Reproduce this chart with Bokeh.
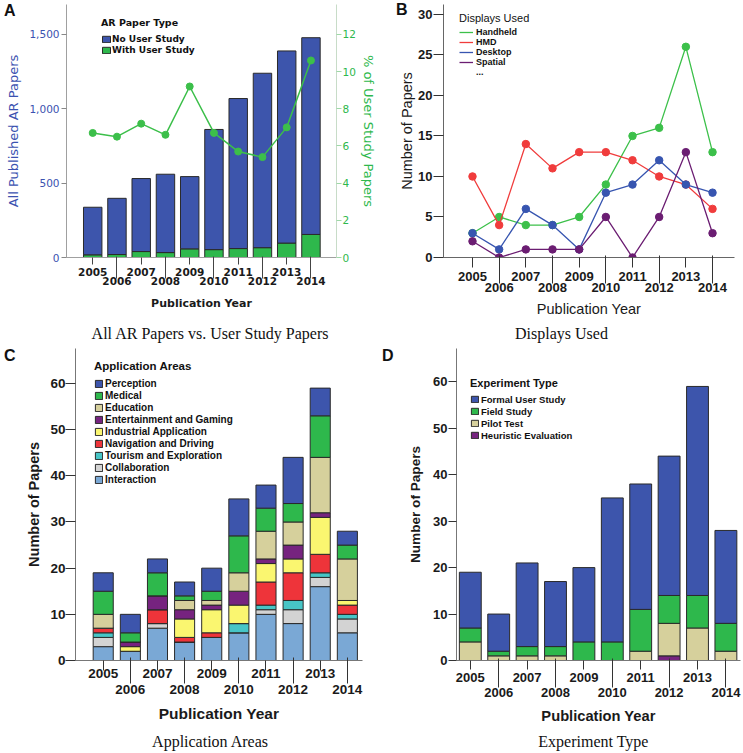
from bokeh.plotting import figure
from bokeh.layouts import column, row
from bokeh.models import (Range1d, LinearAxis, FixedTicker, Legend, LegendItem,
                          NumeralTickFormatter, ColumnDataSource, CustomJSTickFormatter)
from bokeh.core.properties import value
from bokeh.embed import file_html
from bokeh.resources import INLINE

# ---------------- data ----------------
years = [2005, 2006, 2007, 2008, 2009, 2010, 2011, 2012, 2013, 2014]
years_row1 = years[0::2]
years_row2 = years[1::2]

# Panel A
all_ar_papers = [338, 398, 531, 560, 544, 861, 1069, 1239, 1389, 1478]
with_user_study = [18, 20, 40, 33, 58, 53, 60, 66, 97, 155]
user_study_pct = [6.7, 6.5, 7.2, 6.6, 9.2, 6.7, 5.7, 5.4, 7.0, 10.6]
left_ticks_a = [0, 500, 1000, 1500]
right_ticks_a = [0, 2, 4, 6, 8, 10, 12]

# Panel B
handheld = [3, 5, 4, 4, 5, 9, 15, 16, 26, 13]
hmd = [10, 4, 14, 11, 13, 13, 12, 10, 9, 6]
desktop = [3, 1, 6, 4, 1, 8, 9, 12, 9, 8]
spatial = [2, 0, 1, 1, 1, 5, 0, 5, 13, 3]
ticks_b = [0, 5, 10, 15, 20, 25, 30]

# Panel C (stack order bottom -> top)
interaction = [3, 2, 7, 4, 5, 6, 10, 8, 16, 6]
collaboration = [2, 0, 1, 0, 0, 0, 1, 3, 2, 3]
tourism = [1, 0, 0, 0, 0, 2, 1, 2, 1, 1]
navigation = [1, 0, 3, 1, 1, 0, 5, 6, 4, 2]
industrial = [0, 1, 0, 4, 5, 4, 4, 3, 8, 1]
entertainment = [0, 1, 3, 2, 1, 3, 1, 3, 1, 0]
education = [3, 0, 0, 2, 1, 4, 6, 5, 12, 9]
medical = [5, 2, 5, 1, 2, 8, 5, 4, 9, 3]
perception = [4, 4, 3, 3, 5, 8, 5, 10, 6, 3]
ticks_cd = [0, 10, 20, 30, 40, 50, 60]

# Panel D (stack order bottom -> top)
heuristic = [0, 0, 0, 0, 0, 0, 0, 1, 0, 0]
pilot = [4, 1, 1, 1, 0, 0, 2, 7, 7, 2]
field = [3, 1, 2, 2, 4, 4, 9, 6, 7, 6]
formal = [12, 8, 18, 14, 16, 31, 27, 30, 45, 20]

captions = ["All AR Papers vs. User Study Papers", "Displays Used",
            "Application Areas", "Experiment Type"]

# ---------------- colours / fonts ----------------
BLUE = "#3D55AC"
GREEN = "#2EB84C"
TAN = "#D6D09C"
PURPLE = "#76237F"
YELLOW = "#FAF670"
RED = "#EE343A"
TEAL = "#47C5C6"
LGRAY = "#D3D3D3"
LBLUE = "#7AA8D5"
EDGE = "#2a2a2a"

SANS = "Liberation Sans"
LUC = "DejaVu Sans"
SERIF = "Liberation Serif"


def base(width, height, xr, yr, left, right, top, bottom):
    p = figure(width=width, height=height, x_range=xr, y_range=yr,
               output_backend="svg", toolbar_location=None,
               min_border_left=left, min_border_right=right,
               min_border_top=top, min_border_bottom=bottom)
    p.grid.visible = False
    p.outline_line_color = None
    p.background_fill_color = "white"
    p.border_fill_color = "white"
    return p


def x_axes(p, font, size, style, tick_out, st1, st2, tick_in2, tick_out2, lab_size,
           lab_style, lab_standoff, line_color, tick_color, text_color="#1a1a1a"):
    ax1 = p.xaxis[0]
    ax1.ticker = FixedTicker(ticks=years_row1)
    ax1.axis_line_color = line_color
    ax2 = LinearAxis(ticker=FixedTicker(ticks=years_row2), axis_line_color=None,
                     axis_label="Publication Year")
    for ax, st in [(ax1, st1), (ax2, st2)]:
        ax.major_label_text_font = font
        ax.major_label_text_font_size = size
        ax.major_label_text_font_style = style
        ax.major_label_text_color = text_color
        ax.major_label_standoff = st
        ax.major_tick_line_color = tick_color
        ax.minor_tick_line_color = None
    ax1.major_tick_in = 0
    ax1.major_tick_out = tick_out
    ax2.major_tick_in = tick_in2
    ax2.major_tick_out = tick_out2
    ax2.axis_label_text_font = font
    ax2.axis_label_text_font_size = lab_size
    ax2.axis_label_text_font_style = lab_style
    ax2.axis_label_text_color = text_color
    ax2.axis_label_standoff = lab_standoff
    p.add_layout(ax2, "below")


def y_axis(ax, ticks, font, size, style, color, tick_out, st, label, lab_size,
           lab_style, lab_color, lab_standoff, line_color, tick_color):
    ax.ticker = FixedTicker(ticks=ticks)
    ax.major_label_text_font = font
    ax.major_label_text_font_size = size
    ax.major_label_text_font_style = style
    ax.major_label_text_color = color
    ax.major_label_standoff = st
    ax.major_tick_in = 0
    ax.major_tick_out = tick_out
    ax.major_tick_line_color = tick_color
    ax.minor_tick_line_color = None
    ax.axis_line_color = line_color
    ax.axis_label = label
    ax.axis_label_text_font = font
    ax.axis_label_text_font_size = lab_size
    ax.axis_label_text_font_style = lab_style
    ax.axis_label_text_color = lab_color
    ax.axis_label_standoff = lab_standoff


def panel_letter(p, letter, yval, standoff):
    # panel letter drawn as the single label of an extra, line-less left axis
    ax = LinearAxis(ticker=FixedTicker(ticks=[yval]),
                    formatter=CustomJSTickFormatter(code="return '%s'" % letter),
                    axis_line_color=None, major_tick_line_color=None,
                    minor_tick_line_color=None, major_tick_in=0, major_tick_out=0,
                    major_label_standoff=standoff, major_label_text_font=SANS,
                    major_label_text_font_style="bold", major_label_text_font_size="16px",
                    major_label_text_color="#111111")
    p.add_layout(ax, "left")


def style_legend(leg, title_font, title_size, title_style, title_standoff, font, size,
                 label_height, gw, gh, label_standoff):
    leg.title_text_font = title_font
    leg.title_text_font_size = title_size
    leg.title_text_font_style = title_style
    leg.title_text_color = "#111111"
    leg.title_standoff = title_standoff
    leg.label_text_font = font
    leg.label_text_font_size = size
    leg.label_text_font_style = "bold"
    leg.label_text_color = "#111111"
    leg.label_height = label_height
    leg.glyph_width = gw
    leg.glyph_height = gh
    leg.label_standoff = label_standoff
    leg.spacing = 0
    leg.padding = 0
    leg.margin = 0
    leg.background_fill_alpha = 0
    leg.border_line_alpha = 0


def caption_strip(width, height, cx, cy, text):
    s = figure(width=width, height=height, x_range=Range1d(0, width),
               y_range=Range1d(0, height), output_backend="svg", toolbar_location=None,
               x_axis_type=None, y_axis_type=None, min_border=0)
    s.grid.visible = False
    s.outline_line_color = None
    s.text(x=[cx], y=[cy], text=[text], text_font=value(SERIF), text_font_size="16px",
           text_align="center", text_baseline="middle", text_color="#111111")
    return s


# ================= Panel A =================
xa = Range1d(2003.919, 2015.053)
ya = Range1d(0, 1701.3)
pA = base(378, 319, xa, ya, 60, 40, 4, 59)
pA.extra_y_ranges = {"pct": Range1d(0, 13.61)}

srcA = ColumnDataSource(dict(
    year=years,
    with_study=with_user_study,
    no_study=[t - w for t, w in zip(all_ar_papers, with_user_study)],
))
rA = pA.vbar_stack(["with_study", "no_study"], x="year", width=0.76, source=srcA,
                   fill_color=[GREEN, BLUE], line_color=EDGE, line_width=1)
pA.line(years, user_study_pct, y_range_name="pct", line_color="#3CBF4A", line_width=1.5)
pA.scatter(years, user_study_pct, y_range_name="pct", size=7, fill_color="#3CBF4A",
           line_color="#3CBF4A")

y_axis(pA.yaxis[0], left_ticks_a, LUC, "10.5px", "normal", "#3B52B0", 5, 2,
       "All Published AR Papers", "13px", "normal", "#3B52B0", 5, "#a0a0a0", "#888888")
pA.yaxis[0].formatter = NumeralTickFormatter(format="0,0")
axR = LinearAxis(y_range_name="pct")
y_axis(axR, right_ticks_a, LUC, "10.5px", "normal", "#2EB84C", 5, 1,
       "% of User Study Papers", "13px", "normal", "#2EB84C", 2, "#c8dcc8", "#9fd8a8")
pA.add_layout(axR, "right")
x_axes(pA, LUC, "10.5px", "bold", 7, 3, -2, 22, 0, "11px", "bold", 9, "#a0a0a0", "#444444")
panel_letter(pA, "A", 1661.5, -12)

legA = Legend(items=[LegendItem(label="No User Study", renderers=[rA[1]]),
                     LegendItem(label="With User Study", renderers=[rA[0]])],
              location=(35, 202), title="AR Paper Type")
style_legend(legA, LUC, "9.5px", "bold", 5, LUC, "9px", 11, 10, 8, 1)
pA.add_layout(legA)

# ================= Panel B =================
xb = Range1d(2003.913, 2014.824)
yb = Range1d(0, 31.22)
pB = base(365, 319, xb, yb, 65, 9, 4, 59)
series_b = [("Handheld", handheld, "#3CC04A"), ("HMD", hmd, "#F03C3C"),
            ("Desktop", desktop, "#3755B0"), ("Spatial", spatial, "#6B1D72")]
itemsB = []
for name, vals, col in series_b:
    r = pB.line(years, vals, line_color=col, line_width=1.3)
    pB.scatter(years, vals, size=7.5, fill_color=col, line_color=col)
    itemsB.append(LegendItem(label=name, renderers=[r]))
r_other = pB.line(x=[], y=[], line_alpha=0)
itemsB.append(LegendItem(label="...", renderers=[r_other]))

y_axis(pB.yaxis[0], ticks_b, SANS, "13px", "bold", "#1a1a1a", 10, 1,
       "Number of Papers", "14.5px", "normal", "#1a1a1a", 0, "#666666", "#333333")
x_axes(pB, SANS, "13px", "bold", 10, 4, -1, 28, 0, "14.5px", "normal", 6, "#666666", "#333333")
panel_letter(pB, "B", 30.61, -11)

legB = Legend(items=itemsB, location=(16, 180), title="Displays Used")
style_legend(legB, SANS, "11px", "normal", 3, SANS, "9px", 10, 14, 10, 3)
pB.add_layout(legB)

# ================= Panel C =================
xc = Range1d(2003.978, 2014.558)
yc = Range1d(0, 67.58)
pC = base(378, 383, xc, yc, 72, 16, 2, 69)
stackC = [("Interaction", interaction, LBLUE), ("Collaboration", collaboration, LGRAY),
          ("Tourism and Exploration", tourism, TEAL), ("Navigation and Driving", navigation, RED),
          ("Industrial Application", industrial, YELLOW),
          ("Entertainment and Gaming", entertainment, PURPLE),
          ("Education", education, TAN), ("Medical", medical, GREEN),
          ("Perception", perception, BLUE)]
dC = {"year": years}
for name, vals, col in stackC:
    dC[name] = vals
srcC = ColumnDataSource(dC)
rC = pC.vbar_stack([s[0] for s in stackC], x="year", width=0.74, source=srcC,
                   fill_color=[s[2] for s in stackC], line_color=EDGE, line_width=1)
y_axis(pC.yaxis[0], ticks_cd, SANS, "13.5px", "bold", "#1a1a1a", 10, 0,
       "Number of Papers", "14.5px", "bold", "#1a1a1a", 5, "#777777", "#333333")
x_axes(pC, SANS, "13.5px", "bold", 10, -2, 1, 23, 3, "15.5px", "bold", 8, "#777777", "#333333")
panel_letter(pC, "C", 66.28, 8)

legC = Legend(items=[LegendItem(label=s[0], renderers=[r]) for s, r in
                     reversed(list(zip(stackC, rC)))],
              location=(19, 175), title="Application Areas")
style_legend(legC, SANS, "11.5px", "bold", 5, SANS, "10px", 12, 9, 9, 2)
pC.add_layout(legC)

# ================= Panel D =================
xd = Range1d(2004.514, 2014.514)
yd = Range1d(0, 67.17)
pD = base(365, 383, xd, yd, 74, 3, 2, 69)
stackD = [("Heuristic Evaluation", heuristic, PURPLE), ("Pilot Test", pilot, TAN),
          ("Field Study", field, GREEN), ("Formal User Study", formal, BLUE)]
dD = {"year": years}
for name, vals, col in stackD:
    dD[name] = vals
srcD = ColumnDataSource(dD)
rD = pD.vbar_stack([s[0] for s in stackD], x="year", width=0.77, source=srcD,
                   fill_color=[s[2] for s in stackD], line_color=EDGE, line_width=1)
y_axis(pD.yaxis[0], ticks_cd, SANS, "13px", "bold", "#1a1a1a", 8, 1,
       "Number of Papers", "13.6px", "bold", "#1a1a1a", 7, "#777777", "#333333")
x_axes(pD, SANS, "13px", "bold", 9, 3, 0, 26, 3, "14.7px", "bold", 8, "#777777", "#333333")
panel_letter(pD, "D", 65.88, 12)

legD = Legend(items=[LegendItem(label=s[0], renderers=[r]) for s, r in
                     reversed(list(zip(stackD, rD)))],
              location=(14, 219), title="Experiment Type")
style_legend(legD, SANS, "11px", "bold", 4, SANS, "9.5px", 12, 9, 8, 2)
pD.add_layout(legD)

# ================= captions =================
capA = caption_strip(378, 27, 210, 13, captions[0])
capB = caption_strip(365, 27, 183, 13, captions[1])
capC = caption_strip(378, 24, 210, 12, captions[2])
capD = caption_strip(365, 24, 215, 12, captions[3])

layout = column(row(pA, pB), row(capA, capB), row(pC, pD), row(capC, capD))
open("out.html", "w").write(file_html(layout, INLINE))
